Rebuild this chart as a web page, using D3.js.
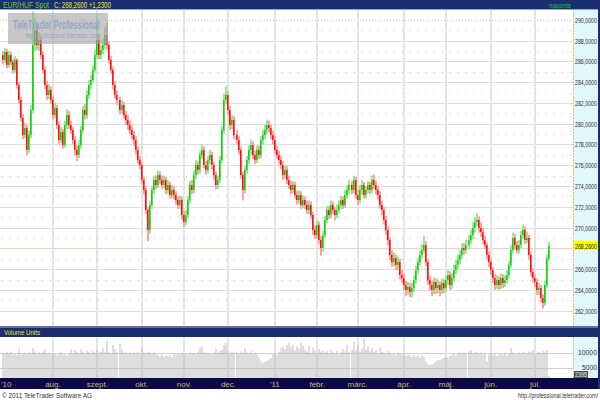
<!DOCTYPE html>
<html><head><meta charset="utf-8">
<script src="https://cdn.jsdelivr.net/npm/d3@7"></script>
<style>body{margin:0;background:#fff;}svg{display:block;font-family:"Liberation Sans",Arial,sans-serif;}</style>
</head><body><svg id="c" width="600" height="400"></svg>
<script>
const opens=[286.60,286.13,286.90,285.65,286.61,285.94,285.17,286.13,283.72,282.28,
280.55,278.91,279.58,277.47,278.91,281.32,287.57,289.02,287.57,288.05,
286.61,285.17,283.72,282.76,283.24,282.28,280.84,281.51,279.87,278.43,
279.20,277.95,279.87,280.84,279.87,279.39,278.43,277.47,276.98,277.95,
279.39,281.32,280.84,282.76,283.72,284.20,285.17,286.61,288.05,286.61,
287.09,287.57,288.54,287.57,286.13,285.17,283.72,282.76,282.28,281.32,
281.80,280.84,280.35,279.87,279.39,278.91,278.43,277.47,276.50,276.02,
274.58,273.62,271.69,269.77,272.17,273.62,274.58,274.10,275.06,274.58,
274.10,274.58,273.62,274.10,273.13,273.62,273.13,272.65,272.17,272.65,
271.21,270.53,271.21,272.65,274.10,273.62,275.06,276.02,275.54,276.98,
277.47,276.02,275.54,276.50,276.98,276.02,275.06,274.10,274.58,276.50,
279.39,282.28,282.76,281.32,279.87,280.35,278.91,278.43,277.47,275.06,
273.62,275.54,276.50,277.47,277.95,276.98,276.50,277.47,276.98,278.43,
278.91,279.39,279.87,279.58,278.91,278.43,277.47,276.98,276.50,276.02,
275.06,275.54,274.58,274.10,273.62,274.10,273.13,272.65,273.13,272.17,
272.65,272.17,271.69,272.17,271.21,269.77,269.28,270.24,268.80,268.03,
269.28,270.73,271.69,271.21,272.17,271.69,271.21,271.69,272.17,272.65,
272.17,273.13,273.62,274.10,273.62,274.58,273.13,272.65,273.62,274.10,
273.13,273.62,274.10,273.62,274.58,274.10,273.62,273.13,272.17,271.69,
270.73,269.77,268.80,267.36,266.68,267.07,266.40,266.68,265.43,265.15,
264.47,263.99,264.28,263.80,264.18,264.95,265.91,266.68,267.36,267.84,
268.32,266.68,264.95,264.47,263.99,264.76,264.18,264.47,263.99,264.66,
264.18,264.95,265.43,264.47,265.15,265.91,266.40,266.88,267.36,268.03,
267.84,268.32,268.80,269.28,269.96,270.53,270.73,269.96,269.57,268.80,
268.32,267.36,266.68,265.91,265.15,264.47,264.95,264.47,265.15,264.66,
264.95,265.43,266.40,267.84,269.00,268.32,267.84,268.32,269.28,269.77,
268.80,269.00,267.36,265.72,265.15,264.76,263.99,264.18,263.22,262.74,
264.47,267.03];
const highs=[287.0,287.3,287.2,287.0,286.9,286.2,286.5,286.3,284.0,282.6,
280.9,280.1,279.9,279.3,281.8,290.8,290.2,289.6,288.8,288.4,
286.9,285.5,284.1,283.8,283.6,282.6,282.0,281.8,280.2,279.7,
279.5,280.3,281.4,281.2,280.3,279.7,278.8,277.9,278.4,279.8,
281.7,281.9,283.2,284.2,284.7,285.6,287.1,290.3,288.6,287.6,
288.2,289.3,289.7,287.9,286.5,285.5,284.1,283.2,282.6,282.3,
282.1,281.2,280.8,280.3,279.8,279.3,278.8,277.8,276.9,276.3,
274.9,274.0,272.0,272.5,274.0,275.0,275.0,275.5,275.4,275.0,
275.0,274.9,274.6,274.4,274.1,274.0,273.5,273.0,273.1,273.0,
271.6,271.7,273.0,274.5,274.6,275.5,276.5,276.4,277.4,278.0,
277.8,276.4,276.9,277.5,277.3,276.3,275.4,275.0,276.9,279.8,
282.9,283.6,283.1,281.7,280.9,280.7,279.4,278.8,277.8,275.4,
275.9,276.9,277.9,278.5,278.3,277.4,277.9,277.9,278.8,279.4,
279.9,280.4,280.3,279.9,279.3,278.8,277.9,277.4,276.9,276.4,
276.0,275.9,275.0,274.5,274.5,274.4,273.5,273.6,273.5,273.1,
273.0,272.6,272.6,272.5,271.5,270.2,270.7,270.6,269.2,269.7,
271.1,272.1,272.1,272.6,272.5,272.0,272.2,272.6,273.1,273.0,
273.6,274.1,274.6,274.5,275.0,274.9,273.6,274.1,274.6,274.4,
274.0,274.5,274.4,275.0,275.1,274.5,274.0,273.5,272.6,272.0,
271.1,270.1,269.1,267.8,267.6,267.4,267.2,267.0,265.9,265.5,
264.9,264.8,264.7,264.7,265.4,266.3,267.1,267.8,268.4,269.2,
268.7,267.0,265.4,264.9,265.2,265.1,265.0,264.8,265.1,265.0,
265.4,265.9,265.8,265.6,266.4,266.9,267.4,267.8,268.5,268.5,
268.8,269.3,269.8,270.5,271.0,271.4,271.1,270.5,270.0,269.2,
268.6,267.7,267.0,266.2,265.5,265.4,265.3,265.6,265.5,265.4,
265.9,266.8,268.3,269.5,269.4,268.7,268.8,269.7,270.3,270.1,
269.6,269.3,267.7,266.1,265.5,265.1,264.7,264.5,263.6,264.9,
267.4,268.6];
const lows=[285.7,285.8,285.3,285.4,285.6,284.8,284.9,283.4,281.9,280.2,
278.5,278.6,277.0,277.2,278.6,281.0,287.0,287.1,287.0,286.2,
284.8,283.3,282.3,282.4,281.9,280.4,280.5,279.5,278.0,278.1,
277.6,277.7,279.5,279.5,279.0,278.0,277.0,276.4,276.7,277.6,
279.1,280.4,280.5,282.4,283.3,283.9,284.9,286.3,286.2,286.2,
286.7,287.2,287.1,285.7,284.8,283.3,282.4,281.8,280.9,281.0,
280.5,279.9,279.4,279.0,278.5,277.9,277.0,276.1,275.6,274.2,
273.2,271.3,268.7,269.4,271.8,273.2,273.7,273.8,274.2,273.7,
273.8,273.2,273.3,272.8,272.8,272.7,272.2,271.8,271.8,270.8,
270.0,270.2,270.9,272.3,273.2,273.3,274.7,275.1,275.2,276.6,
275.7,275.1,275.2,276.1,275.6,274.6,273.7,273.7,274.3,276.2,
279.0,281.9,280.9,279.4,279.5,278.5,278.0,277.0,274.7,272.6,
273.3,275.2,276.1,277.0,276.6,276.1,276.2,276.6,276.7,278.0,
278.5,279.0,279.2,278.5,278.0,277.1,276.6,276.1,275.6,274.6,
274.7,274.2,273.7,273.2,273.3,272.8,272.2,272.3,271.8,271.9,
271.8,271.3,271.3,270.8,269.3,268.9,268.9,268.4,267.3,267.7,
269.0,270.4,270.8,270.9,271.3,270.7,270.9,271.4,271.8,271.8,
271.9,272.8,273.2,273.2,273.3,272.8,272.2,272.3,273.2,272.8,
272.8,273.3,273.2,273.3,273.7,273.2,272.7,271.8,271.2,270.3,
269.3,268.3,266.9,266.2,266.3,265.9,265.9,265.0,264.7,264.0,
263.4,263.5,263.3,263.3,263.8,264.6,265.5,266.3,267.0,267.5,
266.3,264.5,263.9,263.4,263.6,263.6,263.7,263.4,263.6,263.7,
263.8,264.5,264.0,264.1,264.8,265.5,266.0,266.5,267.0,267.4,
267.5,267.9,268.4,268.9,269.5,270.1,269.5,269.1,268.4,267.9,
266.9,266.2,265.4,264.7,264.0,264.1,264.0,264.1,264.2,264.3,
264.6,265.1,266.1,267.5,267.9,267.5,267.5,268.0,269.0,268.4,
268.5,266.9,265.3,264.7,264.3,263.5,263.5,262.8,262.2,262.5,
264.2,266.8];
const closes=[286.13,286.90,285.65,286.61,285.94,285.17,286.13,283.72,282.28,280.55,
278.91,279.58,277.47,278.91,281.32,287.57,289.02,287.57,288.05,286.61,
285.17,283.72,282.76,283.24,282.28,280.84,281.51,279.87,278.43,279.20,
277.95,279.87,280.84,279.87,279.39,278.43,277.47,276.98,277.95,279.39,
281.32,280.84,282.76,283.72,284.20,285.17,286.61,288.05,286.61,287.09,
287.57,288.54,287.57,286.13,285.17,283.72,282.76,282.28,281.32,281.80,
280.84,280.35,279.87,279.39,278.91,278.43,277.47,276.50,276.02,274.58,
273.62,271.69,269.77,272.17,273.62,274.58,274.10,275.06,274.58,274.10,
274.58,273.62,274.10,273.13,273.62,273.13,272.65,272.17,272.65,271.21,
270.53,271.21,272.65,274.10,273.62,275.06,276.02,275.54,276.98,277.47,
276.02,275.54,276.50,276.98,276.02,275.06,274.10,274.58,276.50,279.39,
282.28,282.76,281.32,279.87,280.35,278.91,278.43,277.47,275.06,273.62,
275.54,276.50,277.47,277.95,276.98,276.50,277.47,276.98,278.43,278.91,
279.39,279.87,279.58,278.91,278.43,277.47,276.98,276.50,276.02,275.06,
275.54,274.58,274.10,273.62,274.10,273.13,272.65,273.13,272.17,272.65,
272.17,271.69,272.17,271.21,269.77,269.28,270.24,268.80,268.03,269.28,
270.73,271.69,271.21,272.17,271.69,271.21,271.69,272.17,272.65,272.17,
273.13,273.62,274.10,273.62,274.58,273.13,272.65,273.62,274.10,273.13,
273.62,274.10,273.62,274.58,274.10,273.62,273.13,272.17,271.69,270.73,
269.77,268.80,267.36,266.68,267.07,266.40,266.68,265.43,265.15,264.47,
263.99,264.28,263.80,264.18,264.95,265.91,266.68,267.36,267.84,268.32,
266.68,264.95,264.47,263.99,264.76,264.18,264.47,263.99,264.66,264.18,
264.95,265.43,264.47,265.15,265.91,266.40,266.88,267.36,268.03,267.84,
268.32,268.80,269.28,269.96,270.53,270.73,269.96,269.57,268.80,268.32,
267.36,266.68,265.91,265.15,264.47,264.95,264.47,265.15,264.66,264.95,
265.43,266.40,267.84,269.00,268.32,267.84,268.32,269.28,269.77,268.80,
269.00,267.36,265.72,265.15,264.76,263.99,264.18,263.22,262.74,264.47,
267.03,268.26];
const volumes=[10000,9600,10200,9800,10300,9500,9900,9200,11400,9300,
9700,10100,9400,10300,9800,11600,10500,9900,10200,9600,
10400,11200,9800,10100,9500,10000,9700,9300,9800,10200,
9400,9600,9100,10000,11100,9700,10900,10300,9800,11200,
10400,9900,10800,10200,9700,10500,10100,11000,9900,10300,
11600,10200,14100,10400,9800,12600,11200,10100,13100,11000,
10000,10400,9800,10200,9600,10100,9900,10300,9700,11800,
10200,9800,10400,10000,9600,10300,9500,9200,8800,9400,
8600,9000,8900,9300,8500,9700,9100,9800,9400,10100,
9600,9900,9300,10200,9800,10000,9500,10400,11600,12000,
10300,9700,10100,9900,9400,10200,11300,10000,10600,11000,
12600,13200,10400,9800,10300,9900,10100,9600,10400,10000,
11400,10200,9800,10500,9700,10000,9300,8200,7000,6600,
7000,7300,7700,8200,9600,10000,9300,10400,11500,12000,
11200,12500,13200,11800,12700,10800,12100,11400,13400,12500,
11000,10400,12200,10000,11600,10600,9900,11200,10300,10800,
10000,10500,9600,10800,10100,9800,10600,9400,10200,11100,
10500,12600,10200,11000,13600,10800,12600,10400,11300,14800,
10900,12000,10500,11500,10200,10800,9700,11800,10300,10100,
9800,10600,10000,9400,9800,9200,10100,9500,9300,9800,
8900,9400,9000,8700,9300,8600,8900,8300,9100,8500,
7200,6300,5900,6000,6500,7100,7600,7500,8000,8300,
8600,8400,8900,9200,9600,9000,9900,10100,9500,10300,
9800,10500,10900,9800,10400,10100,9600,10200,9400,9800,
6900,9300,9900,9100,9600,8900,9400,9700,9200,10000,
9100,9800,11500,10200,9500,9900,10100,9600,10300,10000,
9800,10400,10100,10800,9600,10000,10300,9900,10600,10200,
10900,2395];
const monthLabels=["'10","aug.","szept.","okt.","nov.","dec.","'11","febr.","márc.","ápr.","máj.","jún.","júl."];
const monthStarts=[3,25,47,69,90,112,135,156,176,199,220,242,264];
const priceTicks=[262,264,266,268,270,272,274,276,278,280,282,284,286,288,290];
const priceMinor=[263,265,267,269,271,273,275,277,279,281,283,285,287,289];
const volumeTicks=[5000,10000];
const symbolName="EUR/HUF Spot", periodName="naponta", volumeTitle="Volume Units";
const copyright="© 2011 TeleTrader Software AG", siteUrl="http://professional.teletrader.com/", brand="TeleTrader Professional";

const svg=d3.select("#c");
const navy="#1b2e72";
const fmt=v=>d3.format(".4f")(v).replace(".",",");
const x=d3.scaleLinear().domain([0,closes.length-1]).range([2.5,549.2]);
const y=d3.scaleLinear().domain([262,290]).range([310.7,19.8]);
const yv=d3.scaleLinear().domain([0,10000]).range([382.7,352.7]);
const PR=573;
function fitText(str,x0,y0,size,w,fill,opts={}){
  const t=svg.append("text").attr("font-size",size).attr("fill",fill).text(str);
  if(opts.bold) t.attr("font-weight","bold");
  const nw=t.node().getComputedTextLength();
  const s=w/nw;
  const tx=opts.anchor==="end"?x0-w:x0;
  t.attr("transform",`translate(${tx},${y0}) scale(${s},1)`);
  return t;
}

svg.append("rect").attr("width",600).attr("height",400).attr("fill","#fff");
svg.append("rect").attr("x",PR).attr("y",9).attr("width",27).attr("height",318).attr("fill","#e2f8fc");
svg.append("defs").html('<clipPath id="cp"><rect x="0" y="9" width="573" height="318"/></clipPath><clipPath id="cv"><rect x="0" y="337" width="573" height="41"/></clipPath>');
const gp=svg.append("g").attr("clip-path","url(#cp)");
gp.selectAll(".hg").data(priceTicks).join("line").attr("x1",0).attr("x2",PR).attr("y1",d=>Math.round(y(d))+0.5).attr("y2",d=>Math.round(y(d))+0.5)
  .attr("stroke",d=>d===290?"#e8b8b8":"#dedede").attr("stroke-dasharray",d=>d===290?"1,2":null);
gp.selectAll(".hm").data(priceMinor).join("line").attr("x1",2).attr("x2",PR).attr("y1",d=>Math.round(y(d))+0.5).attr("y2",d=>Math.round(y(d))+0.5)
  .attr("stroke","#c4c4c4").attr("stroke-dasharray","1,7");
gp.selectAll(".vg").data(monthStarts.slice(1)).join("rect").attr("x",d=>Math.round(x(d))-1).attr("y",9).attr("width",2).attr("height",318).attr("fill","#e4e4e4");
const lastC=closes[closes.length-1];
gp.append("line").attr("x1",0).attr("x2",PR).attr("y1",Math.round(y(lastC))+2.5).attr("y2",Math.round(y(lastC))+2.5).attr("stroke","#f2cec6");
// candles
const idx=d3.range(closes.length);
const up=i=>closes[i]>=opens[i];
gp.selectAll(".wk").data(idx).join("rect").attr("x",i=>Math.round(x(i))-1).attr("width",2)
  .attr("y",i=>y(highs[i])).attr("height",i=>Math.max(1,y(lows[i])-y(highs[i])))
  .attr("fill",i=>up(i)?"#98e898":"#ffa4a4");
gp.selectAll(".bd").data(idx).join("rect").attr("x",i=>Math.round(x(i))-1).attr("width",1.5)
  .attr("y",i=>y(Math.max(opens[i],closes[i]))).attr("height",i=>Math.max(1,Math.abs(y(opens[i])-y(closes[i]))))
  .attr("fill",i=>up(i)?"#10d010":"#ff1010");
// watermark
svg.append("rect").attr("x",8).attr("y",13).attr("width",100).attr("height",31).attr("fill","#a4a4a4").attr("opacity",0.6);
fitText(brand,13,29,12,87,"#93a6cc",{bold:true});
fitText(siteUrl,25,38,6.5,75,"#93a6cc");
// right axis
svg.append("line").attr("x1",PR+0.5).attr("x2",PR+0.5).attr("y1",9).attr("y2",327).attr("stroke","#d8cc70").attr("stroke-dasharray","2,1");
const lastY=y(lastC);
priceTicks.filter(d=>Math.abs(y(d)-lastY)>8).forEach(d=>fitText(fmt(d),575,y(d)+3,8,22,"#303040"));
svg.append("rect").attr("x",574).attr("y",lastY-5).attr("width",24).attr("height",9).attr("fill","#ffff00");
fitText(fmt(lastC),575,lastY+3,8,22,"#202020");
// header
svg.append("rect").attr("x",0).attr("y",0).attr("width",600).attr("height",9).attr("fill",navy);
svg.append("line").attr("x1",0).attr("x2",600).attr("y1",9.5).attr("y2",9.5).attr("stroke","#8fa4d8");
const chg=lastC-closes[closes.length-2];
fitText(symbolName,3,8,8.5,46,"#7cc81c");
fitText("C: "+fmt(lastC)+" "+(chg>=0?"+":"")+fmt(chg),54,8,8.5,57,"#eaea10");
fitText(periodName,549,8,8,22,"#18c018");
// separator + volume header
svg.append("rect").attr("x",0).attr("y",326).attr("width",600).attr("height",2).attr("fill","#6070a0");
svg.append("rect").attr("x",0).attr("y",328).attr("width",600).attr("height",9).attr("fill",navy);
fitText(volumeTitle,4,335,7.5,36,"#e4e420");
// volume panel
svg.append("rect").attr("x",PR).attr("y",337).attr("width",27).attr("height",41).attr("fill","#e2f8fc");
const gv=svg.append("g").attr("clip-path","url(#cv)");
gv.selectAll(".vgl").data(volumeTicks).join("line").attr("x1",0).attr("x2",PR).attr("y1",d=>Math.round(yv(d))+0.5).attr("y2",d=>Math.round(yv(d))+0.5).attr("stroke","#d0d0d0");
gv.selectAll(".vvg").data(monthStarts.slice(1)).join("rect").attr("x",d=>Math.round(x(d))-1).attr("y",337).attr("width",2).attr("height",41).attr("fill","#e4e4e4");
gv.selectAll(".vb").data(idx).join("rect").attr("x",i=>Math.round(x(i))-0.5).attr("width",1).attr("y",i=>yv(volumes[i])).attr("height",i=>yv(0)-yv(volumes[i])).attr("fill","#bcbcbc");
svg.append("line").attr("x1",PR+0.5).attr("x2",PR+0.5).attr("y1",337).attr("y2",378).attr("stroke","#d8cc70").attr("stroke-dasharray","2,1");
volumeTicks.forEach(d=>fitText(String(d),597,yv(d)+2,8,d>=10000?19:15,"#303040",{anchor:"end"}));
svg.append("rect").attr("x",574).attr("y",371).attr("width",14).attr("height",7).attr("fill","#505050");
fitText(String(volumes[volumes.length-1]),575,377,6.5,12,"#e8e8e8");
// time axis
svg.append("rect").attr("x",0).attr("y",378).attr("width",600).attr("height",11).attr("fill","#0a0a48");
svg.selectAll(".ml").data(monthStarts).join("text").attr("x",(d,k)=>k===0?1:x(d)).attr("y",387)
  .attr("text-anchor",(d,k)=>k===0?"start":"middle").attr("font-size",8).attr("fill","#cbb868").text((d,k)=>monthLabels[k]);
svg.append("rect").attr("x",598).attr("y",0).attr("width",2).attr("height",389).attr("fill",navy);
// footer
fitText(copyright,2,398,8,90,"#333");
fitText(siteUrl,598,398,7,80,"#333",{anchor:"end"});
</script></body></html>
